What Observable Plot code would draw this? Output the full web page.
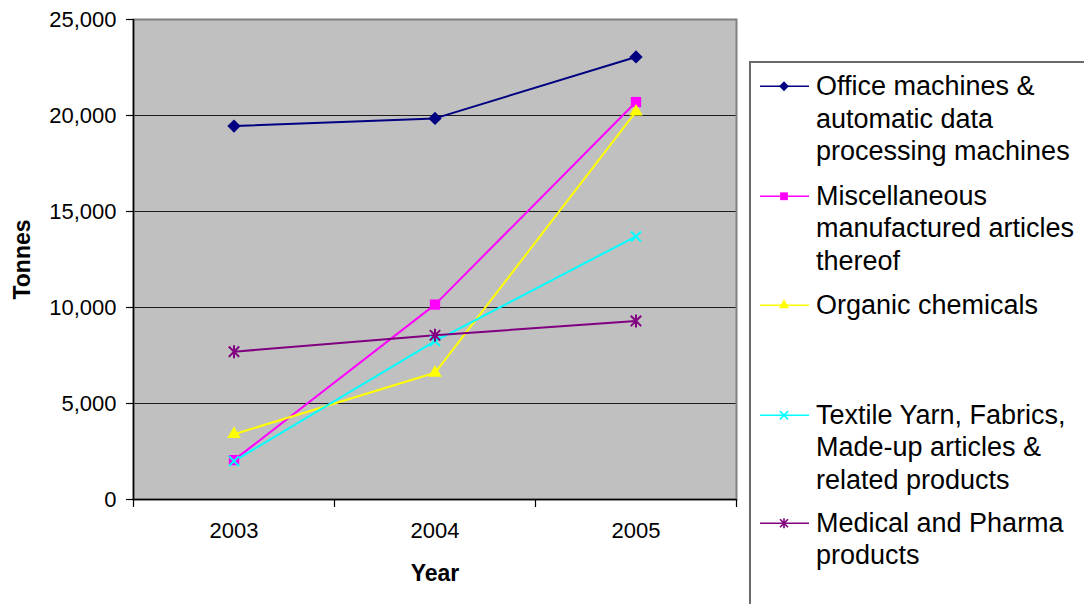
<!DOCTYPE html>
<html>
<head>
<meta charset="utf-8">
<script src="https://cdn.jsdelivr.net/npm/d3@7"></script>
<script src="https://cdn.jsdelivr.net/npm/@observablehq/plot@0.6"></script>
<style>
  html, body { margin: 0; padding: 0; background: #fff; }
  #wrap { position: relative; width: 1084px; height: 604px; overflow: hidden; font-family: "Liberation Sans", Arial, sans-serif; }
  #legend-box { position: absolute; left: 749px; top: 61px; width: 400px; height: 600px; border: 2px solid #6a6a6a; box-sizing: border-box; background: #fff; }
  .entry { position: absolute; left: 760px; }
  .entry svg { position: absolute; left: 0; top: 0; }
  .entry .lbl { position: absolute; left: 56px; top: 0; font-size: 27px; line-height: 32.5px; white-space: nowrap; color: #000; }
</style>
</head>
<body>
<div id="wrap"></div>
<script>
// Exports by product group, tonnes per year
const years = [2003, 2004, 2005];
const officeMachines = [19450, 19850, 23050];
const miscManufactured = [2050, 10150, 20700];
const organicChemicals = [3400, 6600, 20200];
const textileYarn = [2000, 8250, 13700];
const medicalPharma = [7700, 8550, 9300];

const seriesNames = [
  "Office machines & automatic data processing machines",
  "Miscellaneous manufactured articles thereof",
  "Organic chemicals",
  "Textile Yarn, Fabrics, Made-up articles & related products",
  "Medical and Pharma products"
];
const legendLines = [
  ["Office machines &", "automatic data", "processing machines"],
  ["Miscellaneous", "manufactured articles", "thereof"],
  ["Organic chemicals"],
  ["Textile Yarn, Fabrics,", "Made-up articles &", "related products"],
  ["Medical and Pharma", "products"]
];
const seriesColors = ["#000080", "#ff00ff", "#ffff00", "#00ffff", "#800080"];
const yTicks = [0, 5000, 10000, 15000, 20000, 25000];
const categoryEdges = [2002.5, 2003.5, 2004.5, 2005.5];

const seriesValues = [officeMachines, miscManufactured, organicChemicals, textileYarn, medicalPharma];
const rows = seriesNames.flatMap((name, i) =>
  years.map((year, j) => ({series: name, year, value: seriesValues[i][j]}))
);

// Star marker: vertical stroke crossed by an X
const starSymbol = {
  draw(context, size) {
    const r = Math.sqrt(size / Math.PI);
    const d = r * 0.8;
    context.moveTo(0, -r); context.lineTo(0, r);
    context.moveTo(-d, -d); context.lineTo(d, d);
    context.moveTo(-d, d); context.lineTo(d, -d);
  }
};

const markerSpecs = [
  {symbol: d3.symbolDiamond2, r: 6, filled: true},
  {symbol: d3.symbolSquare, r: 5.8, filled: true},
  {symbol: d3.symbolTriangle, r: 5, filled: true},
  {symbol: d3.symbolTimes, r: 4.6, filled: false},
  {symbol: starSymbol, r: 6.5, filled: false}
];

const dotMarks = seriesNames.map((name, i) => {
  const spec = markerSpecs[i];
  const data = rows.filter(d => d.series === name);
  return spec.filled
    ? Plot.dot(data, {x: "year", y: "value", symbol: () => spec.symbol, r: spec.r, fill: "series", stroke: "none"})
    : Plot.dot(data, {x: "year", y: "value", symbol: () => spec.symbol, r: spec.r, stroke: "series", strokeWidth: 2, fill: "none"});
});

const chart = Plot.plot({
  width: 1084,
  height: 604,
  marginLeft: 133,
  marginRight: 348,
  marginTop: 19,
  marginBottom: 105,
  x: {domain: [2002.5, 2005.5]},
  y: {domain: [0, 25000]},
  color: {domain: seriesNames, range: seriesColors},
  symbol: {type: "identity"},
  style: {fontFamily: "'Liberation Sans', Arial, sans-serif", fontSize: "22px", color: "#000", background: "#fff", overflow: "visible"},
  marks: [
    Plot.frame({fill: "#c0c0c0"}),
    Plot.gridY(yTicks.slice(1, -1), {stroke: "#000", strokeOpacity: 0.85, strokeWidth: 1}),
    Plot.frame({stroke: "#808080", strokeWidth: 2}),
    Plot.ruleX([2002.5], {stroke: "#000", strokeWidth: 1.5}),
    Plot.ruleY([0], {stroke: "#000", strokeWidth: 1.5}),
    Plot.axisY({ticks: yTicks, tickFormat: d3.format(","), tickSize: 7, tickPadding: 10, label: null, stroke: "#000", strokeWidth: 1.2}),
    Plot.axisX({ticks: categoryEdges, tickFormat: () => "", tickSize: 8, label: null, stroke: "#000", strokeWidth: 1.2}),
    Plot.axisX({ticks: years, tickFormat: d => String(d), tickSize: 0, tickPadding: 23, label: null}),
    Plot.text(["Tonnes"], {text: d => d, frameAnchor: "left", dx: -111, rotate: -90, textAnchor: "middle", lineAnchor: "middle", fontWeight: "bold", fontSize: 23}),
    Plot.text(["Year"], {text: d => d, frameAnchor: "bottom", dy: 74, textAnchor: "middle", lineAnchor: "middle", fontWeight: "bold", fontSize: 23}),
    Plot.line(rows, {x: "year", y: "value", z: "series", stroke: "series", strokeWidth: 2}),
    ...dotMarks
  ]
});

const wrap = document.getElementById("wrap");
wrap.appendChild(chart);

// Legend box at the right
const box = document.createElement("div");
box.id = "legend-box";
wrap.appendChild(box);

const entryCenters = [86.5, 196, 305.5, 415, 523];
const legendSizes = [4.4, 4.4, 3.8, 3.8, 5];
seriesNames.forEach((name, i) => {
  const cy = entryCenters[i];
  const entry = document.createElement("div");
  entry.className = "entry";
  entry.style.top = (cy - 16.25) + "px";
  const spec = markerSpecs[i];
  const r = legendSizes[i];
  const path = d3.symbol(spec.symbol, Math.PI * r * r)();
  const color = seriesColors[i];
  const markAttrs = spec.filled ? `fill="${color}" stroke="none"` : `fill="none" stroke="${color}" stroke-width="1.6"`;
  entry.innerHTML =
    `<svg width="50" height="33" viewBox="0 0 50 33">` +
    `<line x1="0" x2="49" y1="16.25" y2="16.25" stroke="${color}" stroke-width="1.6"/>` +
    `<path d="${path}" transform="translate(24 16.25)" ${markAttrs}/></svg>` +
    `<div class="lbl">${legendLines[i].map(s => s.replace(/&/g, "&amp;")).join("<br>")}</div>`;
  wrap.appendChild(entry);
});
</script>
</body>
</html>
